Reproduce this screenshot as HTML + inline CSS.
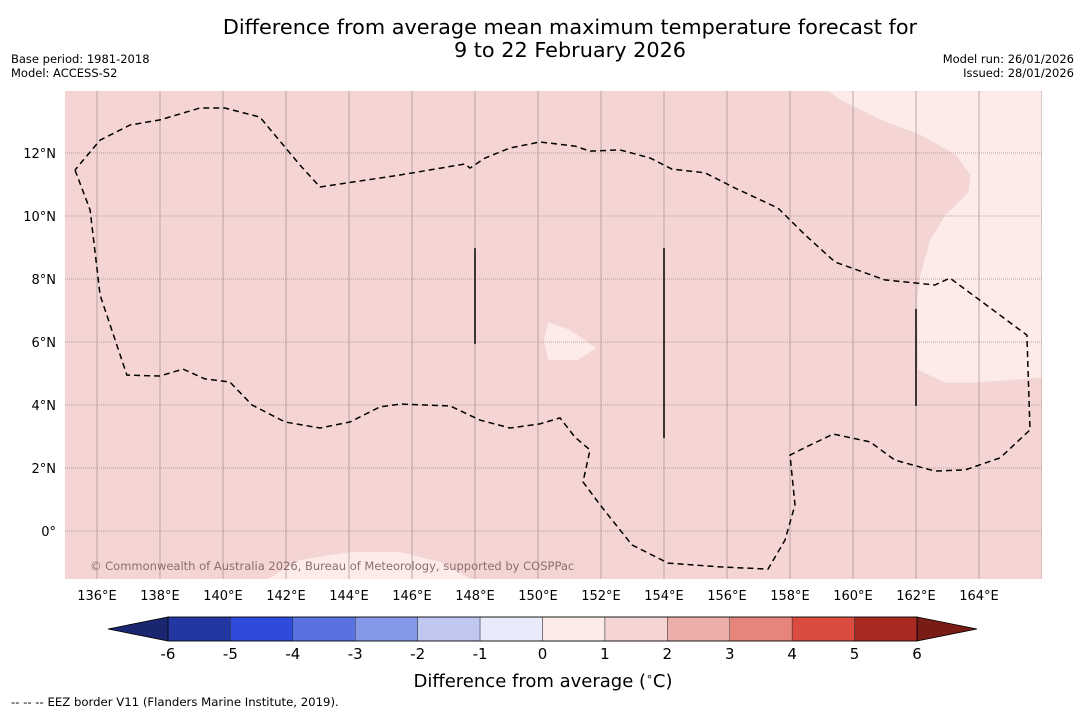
<!DOCTYPE html>
<html><head><meta charset="utf-8"><style>
html,body{margin:0;padding:0;background:#fff;width:1085px;height:713px;overflow:hidden}
svg{display:block;font-family:"DejaVu Sans","Liberation Sans",sans-serif}
</style></head><body>
<svg id="chart" width="1085" height="713">
<text x="570" y="34" font-size="20.8" text-anchor="middle">Difference from average mean maximum temperature forecast for</text>
<text x="570" y="57" font-size="20.8" text-anchor="middle">9 to 22 February 2026</text>
<text x="11" y="63" font-size="11.5">Base period: 1981-2018</text>
<text x="11" y="77" font-size="11.5">Model: ACCESS-S2</text>
<text x="1074" y="63" font-size="11.5" text-anchor="end">Model run: 26/01/2026</text>
<text x="1074" y="77" font-size="11.5" text-anchor="end">Issued: 28/01/2026</text>
<g id="map"></g>
<g id="cbar"></g>
<text x="543" y="687" font-size="18" text-anchor="middle">Difference from average (<tspan font-size="11" dy="-7">∘</tspan><tspan dy="7">C)</tspan></text>
<text x="11" y="706" font-size="11.7">--  --  -- EEZ border V11 (Flanders Marine Institute, 2019).</text>
</svg>
<script>
const lonTicks=[136,138,140,142,144,146,148,150,152,154,156,158,160,162,164];
const latTicks=[12,10,8,6,4,2,0];
const cbarLevels=[-6,-5,-4,-3,-2,-1,0,1,2,3,4,5,6];
const cbarColors=["#2337a3","#2e4bdc","#5873e0","#8598e8","#c0c8f2","#e8eafa","#fcebe9","#f5d5d3","#ecaea8","#e6857c","#dc4b40","#a82a22"];
const eezLon=[135.30,135.78,136.10,136.95,138.0,138.73,139.43,140.22,140.92,141.97,143.08,144.03,144.98,145.62,147.21,148.16,149.11,150.06,150.70,151.17,151.65,151.43,151.97,152.98,154.13,155.78,157.30,157.84,158.16,158.00,158.32,159.37,160.54,161.33,162.60,163.56,164.67,165.62,165.52,163.08,162.60,161.01,159.43,158.48,157.62,156.25,155.30,154.25,153.56,152.60,151.65,151.17,150.06,149.11,148.32,147.84,147.68,145.62,143.08,142.44,141.17,140.06,139.27,138.0,137.05,136.10,135.30];
const eezLat=[11.46,10.19,7.49,4.95,4.92,5.14,4.83,4.73,4.0,3.46,3.27,3.46,3.94,4.03,3.97,3.52,3.27,3.40,3.59,2.98,2.57,1.56,0.83,-0.44,-1.02,-1.14,-1.21,-0.29,0.83,2.41,2.57,3.08,2.83,2.25,1.90,1.94,2.32,3.21,6.22,8.03,7.81,7.97,8.54,9.40,10.25,10.89,11.37,11.49,11.84,12.10,12.06,12.22,12.35,12.16,11.84,11.52,11.65,11.30,10.92,11.62,13.14,13.43,13.43,13.05,12.89,12.41,11.46];
const lightLon=[159.17,159.59,160.86,162.13,163.24,163.71,163.65,162.92,162.44,162.13,162.03,162.06,162.92,163.87,166.0,166.0];
const lightLat=[13.97,13.68,13.05,12.57,11.94,11.30,10.76,10.03,9.24,8.13,7.33,5.11,4.70,4.70,4.86,13.97];
const patchLon=[150.32,151.02,151.84,151.27,150.32,150.19];
const patchLat=[6.63,6.38,5.81,5.43,5.43,6.06];
const bottomLon=[141.43,142.44,144.03,145.62,146.89,147.84];
const bottomLat=[-1.52,-0.92,-0.67,-0.67,-0.98,-1.52];
const tickLon=[148,154,162];
const tickLat1=[8.98,8.98,7.05];
const tickLat2=[5.94,2.95,3.97];
const NS="http://www.w3.org/2000/svg";
const X0=65.5,Y0=531,K=31.5,TOP=91,BOT=579,LEFT=65,RIGHT=1042;
const x=lon=>X0+(lon-135)*K, y=lat=>Y0-lat*K;
function mk(tag,attrs,parent){const e=document.createElementNS(NS,tag);for(const k in attrs)e.setAttribute(k,attrs[k]);parent.appendChild(e);return e;}
const map=document.getElementById('map');
const clip=mk('clipPath',{id:'mc'},map);mk('rect',{x:LEFT,y:TOP,width:RIGHT-LEFT,height:BOT-TOP},clip);
const g=mk('g',{'clip-path':'url(#mc)'},map);
let e=mk('rect',{x:LEFT,y:TOP,width:RIGHT-LEFT,height:BOT-TOP,fill:cbarColors[7]},g);


function poly(lons,lats,attrs,name){const pts=lons.map((l,i)=>x(l).toFixed(1)+','+y(lats[i]).toFixed(1)).join(' ');const p=mk('polygon',Object.assign({points:pts},attrs),g);

return p;}
poly(lightLon,lightLat,{fill:cbarColors[6],stroke:'#ead8d6','stroke-width':0.6},'anomaly-0-1-region-east');
poly(patchLon,patchLat,{fill:cbarColors[6]},'anomaly-0-1-region-central');
poly(bottomLon,bottomLat,{fill:cbarColors[6]},'anomaly-0-1-region-south');
lonTicks.concat([166]).forEach(l=>{const ln=mk('line',{x1:x(l),x2:x(l),y1:TOP,y2:BOT,stroke:'#a89898','stroke-width':0.8},g);

});
latTicks.forEach(l=>{const ln=mk('line',{x1:LEFT,x2:RIGHT,y1:y(l),y2:y(l),stroke:'#a09090','stroke-width':0.8,'stroke-dasharray':'1,1'},g);

});
const eez=mk('polyline',{points:eezLon.map((l,i)=>x(l).toFixed(1)+','+y(eezLat[i]).toFixed(1)).join(' '),fill:'none',stroke:'#000','stroke-width':1.5,'stroke-dasharray':'6,4'},g);


tickLon.forEach((l,i)=>{const ln=mk('line',{x1:x(l),x2:x(l),y1:y(tickLat1[i]),y2:y(tickLat2[i]),stroke:'#000','stroke-width':1.5},g);

});
const cr=mk('text',{x:90,y:570,'font-size':11.5,fill:'#8a7070'},g);cr.textContent='© Commonwealth of Australia 2026, Bureau of Meteorology, supported by COSPPac';


lonTicks.forEach(l=>{const t=mk('text',{x:x(l),y:600,'font-size':13,'text-anchor':'middle'},map);t.textContent=l+'°E';

});
latTicks.forEach(l=>{const t=mk('text',{x:56,y:y(l)+5,'font-size':13,'text-anchor':'end'},map);t.textContent=l===0?'0°':l+'°N';

});
const cb=document.getElementById('cbar');
const CX0=168,CX1=917,CY=617,CH=24,seg=(CX1-CX0)/cbarColors.length;
const cx=v=>CX0+(v-cbarLevels[0])*seg;
e=mk('polygon',{points:`108,629 ${CX0},${CY} ${CX0},${CY+CH}`,fill:'#1a2670',stroke:'#000','stroke-width':0.8},cb);


e=mk('polygon',{points:`977,629 ${CX1},${CY} ${CX1},${CY+CH}`,fill:'#7a1c16',stroke:'#000','stroke-width':0.8},cb);


cbarColors.forEach((c,i)=>{const r=mk('rect',{x:cx(cbarLevels[i]),y:CY,width:seg,height:CH,fill:c,stroke:'#333','stroke-width':0.5},cb);

});
mk('rect',{x:CX0,y:CY,width:CX1-CX0,height:CH,fill:'none',stroke:'#000','stroke-width':0.8},cb);
cbarLevels.forEach(v=>{const t=mk('text',{x:cx(v),y:659,'font-size':15,'text-anchor':'middle'},cb);t.textContent=v;

});
</script>
</body></html>
